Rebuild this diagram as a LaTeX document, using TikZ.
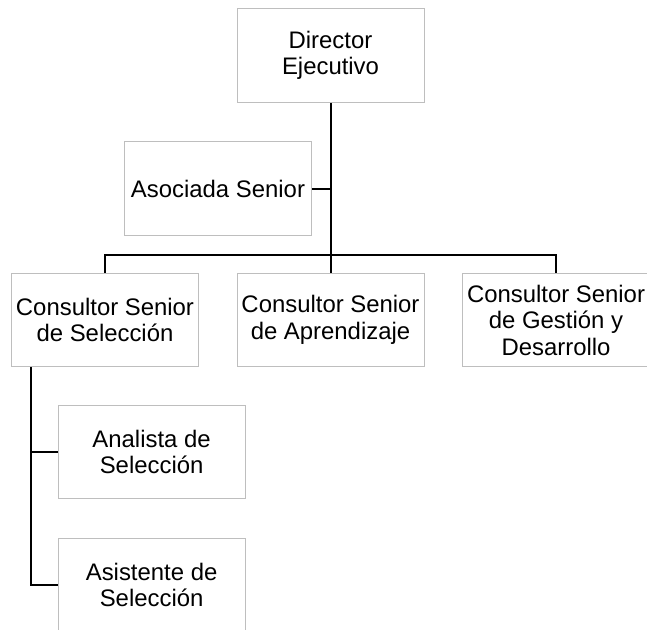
\documentclass[tikz,border=0pt]{standalone}
\usepackage{fontspec}
\setmainfont{Liberation Sans}
\definecolor{boxgray}{RGB}{190,190,190}
\begin{document}
\begin{tikzpicture}[x=1pt,y=-1pt,
  orgbox/.style={draw=boxgray, line width=1pt, fill=white, rectangle,
    minimum width=187pt, minimum height=93.5pt, inner sep=2pt,
    align=center, font=\fontsize{23.9}{26.5}\selectfont},
  link/.style={draw=black, line width=2pt, line join=miter}]
\useasboundingbox (0,0) rectangle (647,629);
\node[orgbox] (dir) at (330.5,55.5) {Director\\Ejecutivo};
\node[orgbox] (asoc) at (218,188.5) {Asociada Senior};
\node[orgbox] (c1) at (105,320) {Consultor Senior\\de Selección};
\node[orgbox] (c2) at (330.5,320) {Consultor Senior\\de Aprendizaje};
\node[orgbox] (c3) at (556,320) {Consultor Senior\\de Gestión y\\Desarrollo};
\node[orgbox] (anal) at (151.6,452) {Analista de\\Selección};
\node[orgbox] (asis) at (151.6,585) {Asistente de\\Selección};
\coordinate (bus) at (330.5,254.5);
\coordinate (stem) at (31.4,366.8);
\draw[link] (dir.south) -- (c2.north);
\draw[link] (asoc.east) -- (asoc.east -| dir.south);
\draw[link] (c1.north) |- (bus) -| (c3.north);
\draw[link] (stem) |- (asis.west);
\draw[link] (stem |- anal.west) -- (anal.west);
\end{tikzpicture}
\end{document}
